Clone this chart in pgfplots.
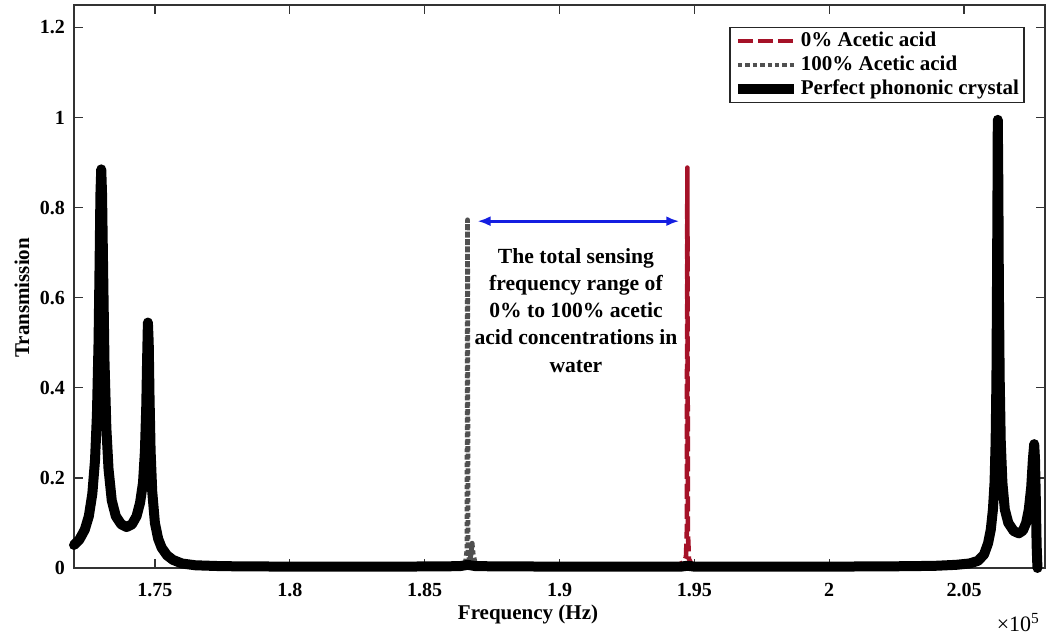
\documentclass[border=0pt]{standalone}
\usepackage{fontspec}
\setmainfont{Liberation Serif}
\usepackage{pgfplots}
\pgfplotsset{compat=1.18}
\usetikzlibrary{arrows.meta}
\definecolor{acidred}{RGB}{165,18,40}
\definecolor{acidgray}{RGB}{80,80,80}
\definecolor{arrowblue}{RGB}{20,30,225}
\begin{document}
\begin{tikzpicture}
\useasboundingbox (-37pt,-33.5pt) rectangle (488.5pt,284pt);
\begin{axis}[
  name=ax,
  scale only axis,
  width=485.5pt, height=281.5pt,
  xmin=1.72, xmax=2.08, ymin=0, ymax=1.25,
  clip=false,
  scaled ticks=false,
  xtick={1.75,1.8,1.85,1.9,1.95,2,2.05},
  xticklabels={1.75,1.8,1.85,1.9,1.95,2,2.05},
  ytick={0,0.2,0.4,0.6,0.8,1,1.2},
  yticklabels={0,0.2,0.4,0.6,0.8,1,1.2},
  tick align=inside,
  major tick length=4.5pt,
  axis line style={draw=black!80, line width=0.6pt},
  every tick/.style={black!80, line width=0.6pt},
  tick label style={font=\fontsize{10}{12}\selectfont\bfseries},
  xticklabel style={yshift=-4pt},
  yticklabel style={xshift=-1pt},
  xlabel={Frequency (Hz)},
  ylabel={Transmission},
  every axis x label/.style={at={(axis description cs:0.4676,-0.082)}, anchor=center, font=\fontsize{10.5}{12}\selectfont\bfseries},
  every axis y label/.style={at={(axis description cs:-0.0536,0.48)}, rotate=90, anchor=center, font=\fontsize{10.5}{12}\selectfont\bfseries},
  legend style={at={(axis description cs:0.979,0.961)}, anchor=north east,
    draw=black!85, line width=0.6pt, inner xsep=1.5pt, inner ysep=1pt,
    font=\fontsize{10.5}{12}\selectfont\bfseries,
    nodes={inner xsep=1pt, inner ysep=0pt, text height=8.5pt, text depth=3pt},
    row sep=0.5pt},
  legend cell align=left,
  legend image code/.code={\draw[#1, line cap=butt] (0pt,0pt) -- (28pt,0pt);},
]
\addplot[acidred, line width=2.3pt, dash pattern=on 7.5pt off 2.5pt, line join=round] coordinates {
(1.9405,0) (1.9420,0.004) (1.9445,0.008) (1.9462,0.014) (1.9469,0.025)
(1.9472,0.08) (1.9474,0.889) (1.9476,0.08) (1.9480,0.02) (1.9490,0.008) (1.9505,0)
};
\addlegendentry{0\% Acetic acid}
\addplot[acidgray, line width=2.4pt, dash pattern=on 2.2pt off 1.5pt, line join=round] coordinates {
(1.8630,0) (1.8645,0.006) (1.8652,0.015) (1.8657,0.04)
(1.8659,0.773) (1.8661,0.04) (1.8666,0.015) (1.8672,0.03) (1.8676,0.055)
(1.8680,0.03) (1.8690,0.005) (1.8705,0)
};
\addlegendentry{100\% Acetic acid}
\addplot[black, line width=5pt, line join=round, line cap=round] coordinates {
(1.7200,0.051) (1.7220,0.063) (1.7240,0.085) (1.7255,0.115) (1.7268,0.165)
(1.7278,0.24) (1.7285,0.34) (1.7291,0.50) (1.7295,0.68) (1.7298,0.83)
(1.7301,0.885) (1.7304,0.83) (1.7308,0.66) (1.7313,0.46) (1.7320,0.31)
(1.7328,0.22) (1.7340,0.15) (1.7355,0.115) (1.7375,0.097) (1.7395,0.091)
(1.7415,0.097) (1.7432,0.115) (1.7445,0.145) (1.7456,0.19) (1.7463,0.26)
(1.7468,0.36) (1.7471,0.46) (1.7474,0.545) (1.7477,0.50) (1.7480,0.38)
(1.7484,0.26) (1.7490,0.17) (1.7500,0.10) (1.7512,0.065) (1.7525,0.045)
(1.7545,0.028) (1.7567,0.018) (1.7600,0.010) (1.7650,0.006) (1.7750,0.004)
(1.8000,0.003) (1.8400,0.003) (1.8630,0.004) (1.8660,0.007) (1.8690,0.004)
(1.9000,0.003) (1.9450,0.003) (1.9475,0.005) (1.9500,0.003) (2.0000,0.003)
(2.0300,0.004) (2.0400,0.005) (2.0470,0.007) (2.0520,0.010) (2.0552,0.016)
(2.0574,0.030) (2.0589,0.055) (2.0599,0.085) (2.0607,0.13) (2.0613,0.19)
(2.0617,0.28) (2.0620,0.42) (2.0622,0.62) (2.0624,0.85) (2.0625,0.995)
(2.0627,0.85) (2.0629,0.62) (2.0632,0.42) (2.0636,0.28) (2.0642,0.19)
(2.0651,0.13) (2.0664,0.10) (2.0684,0.082) (2.0703,0.077) (2.0718,0.083)
(2.0730,0.10) (2.0740,0.13) (2.0749,0.18) (2.0755,0.24) (2.0760,0.275)
(2.0763,0.24) (2.0766,0.15) (2.0769,0.05) (2.0772,0.0)
};
\addlegendentry{Perfect phononic crystal}
\draw[arrowblue, line width=1.5pt, {Latex[length=6.5pt,width=5pt]}-{Latex[length=6.5pt,width=5pt]}]
  (axis cs:1.8696,0.77) -- (axis cs:1.9444,0.77);
\node[align=center, font=\fontsize{10.8}{13.6}\selectfont\bfseries] at (axis cs:1.9061,0.572)
  {The total sensing\\frequency range of\\0\% to 100\% acetic\\acid concentrations in\\water};
\node[anchor=east, font=\fontsize{11}{13}\selectfont] at (axis description cs:1.002,-0.097) {×10\textsuperscript{5}};
\end{axis}
\end{tikzpicture}
\end{document}
